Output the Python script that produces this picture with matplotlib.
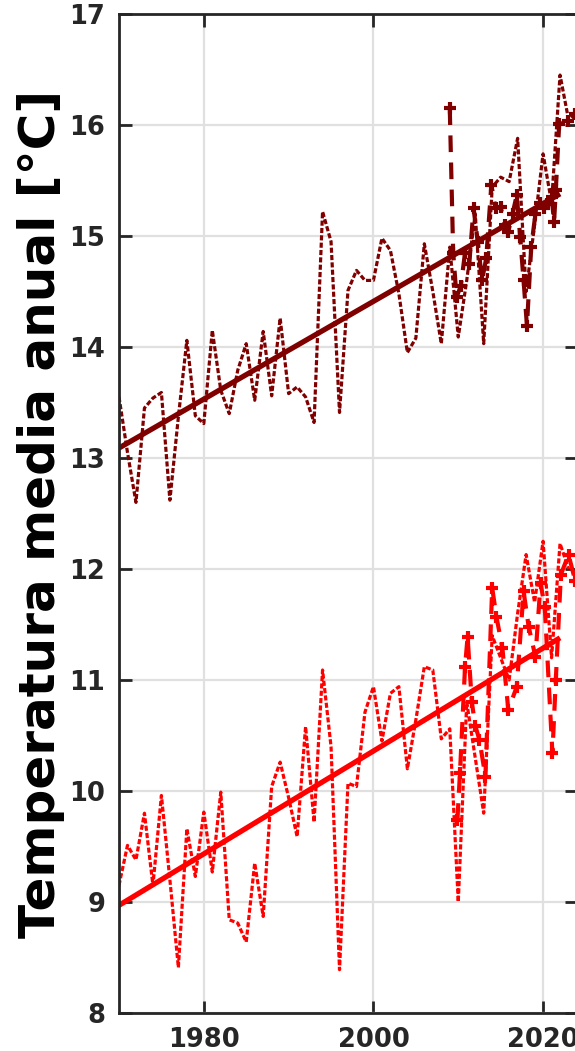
import matplotlib
matplotlib.use("Agg")
import matplotlib.pyplot as plt

# annual means, upper station (dark red)
years = list(range(1970, 2024))
upper = [13.55, 13.05, 12.60, 13.45, 13.54, 13.59, 12.62, 13.37, 14.06, 13.38,
         13.31, 14.15, 13.61, 13.40, 13.79, 14.03, 13.52, 14.14, 13.56, 14.26,
         13.58, 13.64, 13.55, 13.32, 15.22, 14.95, 13.41, 14.51, 14.69, 14.60,
         14.60, 14.98, 14.87, 14.48, 13.95, 14.08, 14.93, 14.50, 14.03, 14.90,
         14.09, 14.60, 15.20, 14.03, 15.44, 15.53, 15.49, 15.88, 14.50, 15.10,
         15.74, 15.30, 16.45, 16.05]

# annual means, lower station (red)
lower = [9.15, 9.51, 9.38, 9.80, 9.15, 9.96, 9.20, 8.41, 9.66, 9.23,
         9.81, 9.27, 9.99, 8.84, 8.81, 8.64, 9.35, 8.87, 10.04, 10.26,
         9.94, 9.59, 10.58, 9.72, 11.09, 10.40, 8.39, 10.07, 10.04, 10.71,
         10.94, 10.45, 10.88, 10.94, 10.20, 10.64, 11.12, 11.09, 10.47, 10.56,
         9.00, 10.80, 10.30, 9.80, 11.40, 11.20, 11.00, 11.60, 12.13, 11.70,
         12.25, 11.20, 12.23, 12.00]

# trend lines (end points)
trend_years = [1970, 2022]
trend_upper = [13.09, 15.38]
trend_lower = [8.97, 11.38]

# second record, upper station
rec_up_x = [2009.0, 2009.4, 2009.8, 2010.3, 2010.8, 2011.3, 2011.8, 2012.3,
            2012.8, 2013.3, 2013.9, 2014.4, 2015.0, 2015.5, 2015.9, 2016.4,
            2016.9, 2017.3, 2017.7, 2018.1, 2018.6, 2019.1, 2019.6, 2020.1,
            2020.5, 2021.0, 2021.3, 2021.5, 2021.9, 2022.9, 2023.8]
rec_up_y = [16.15, 14.85, 14.45, 14.55, 14.85, 14.75, 15.25, 14.95,
            14.60, 14.80, 15.46, 15.25, 15.26, 15.10, 15.04, 15.20,
            15.37, 14.99, 14.60, 14.19, 14.90, 15.20, 15.30, 15.25,
            15.29, 15.35, 15.13, 15.41, 16.01, 16.04, 16.10]

# second record, lower station
rec_lo_x = [2009.9, 2010.2, 2010.8, 2011.1, 2011.6, 2012.0, 2012.5, 2013.2,
            2014.0, 2014.5, 2015.2, 2015.9, 2016.9, 2017.7, 2018.3, 2019.1,
            2019.7, 2020.2, 2021.1, 2021.5, 2022.1, 2023.0, 2023.8]
rec_lo_y = [9.74, 10.16, 11.12, 11.39, 10.80, 10.59, 10.46, 10.13,
            11.83, 11.57, 11.29, 10.73, 10.94, 11.80, 11.48, 11.21,
            11.87, 11.66, 10.34, 11.00, 11.95, 12.13, 11.89]

dark = '#800000'
red = '#ff0000'
axc = '#262626'

fig = plt.figure(figsize=(5.75, 10.51), dpi=100)
ax = fig.add_axes([119 / 575, 38 / 1051, 458 / 575, 999 / 1051])

dots = (0, (1.6, 0.7))
ax.plot(years, upper, color=dark, lw=2.3, ls=dots)
ax.plot(years, lower, color=red, lw=2.3, ls=dots)
ax.plot(trend_years, trend_upper, color=dark, lw=3.8, solid_capstyle='butt')
ax.plot(trend_years, trend_lower, color=red, lw=3.8, solid_capstyle='butt')
ax.plot(rec_up_x, rec_up_y, color=dark, lw=3.0, ls=(0, (4, 2.5)),
        marker='+', ms=9, mew=3.0)
ax.plot(rec_lo_x, rec_lo_y, color=red, lw=3.0, ls=(0, (4, 2.5)),
        marker='+', ms=9, mew=3.0)

ax.set_xlim(1970, 2024)
ax.set_ylim(8, 17)
ax.set_xticks([1980, 2000, 2020])
ax.set_yticks(range(8, 18))
ax.grid(True, color='#e0e0e0', lw=1.6)
ax.set_axisbelow(True)

for s in ax.spines.values():
    s.set_color(axc)
    s.set_linewidth(2.0)
ax.tick_params(direction='in', top=True, right=True, length=9, width=2.0,
               color=axc, labelcolor=axc, pad=10)
for lab in ax.get_xticklabels() + ax.get_yticklabels():
    lab.set_fontsize(18.5)
    lab.set_fontweight('bold')
    lab.set_family('DejaVu Sans')

ax.set_ylabel('Temperatura media anual [°C]', fontsize=36, fontweight='bold',
              family='DejaVu Sans')
ax.yaxis.set_label_coords(-54 / 458, 0.5)

fig.savefig('out.png', dpi=100)
